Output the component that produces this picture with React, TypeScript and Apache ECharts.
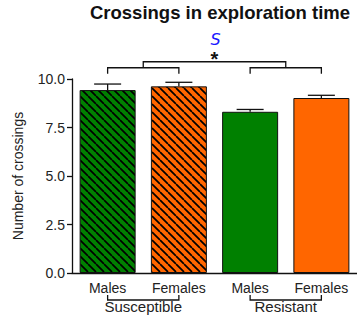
import React, { useEffect, useRef } from "react";
import * as echarts from "echarts";

// Groups and values
const categories = ["Males", "Females", "Males", "Females"];
const groups = ["Susceptible", "Resistant"];
const means = [9.43, 9.62, 8.31, 9.02];
const sems = [0.31, 0.21, 0.12, 0.14];
const hatched = [true, true, false, false];
const barColors = ["#008000", "#FF6600", "#008000", "#FF6600"];
const yTicks = [0, 2.5, 5, 7.5, 10];

// Significance brackets: levels in data units
const pairLevel = 10.58;
const pairDrop = 10.27;
const topLevel = 10.89;
const starLevel = 11.15;
const sLevel = 12.05;

const FONT = "'Liberation Sans', Arial, Helvetica, sans-serif";

function makeHatch(bg: string): HTMLCanvasElement {
  const s = 8;
  const c = document.createElement("canvas");
  c.width = s;
  c.height = s;
  const ctx = c.getContext("2d")!;
  ctx.fillStyle = bg;
  ctx.fillRect(0, 0, s, s);
  ctx.strokeStyle = "#000";
  ctx.lineWidth = 1.7;
  ctx.beginPath();
  for (const off of [-s, 0, s]) {
    ctx.moveTo(off, 0);
    ctx.lineTo(off + s, s);
  }
  ctx.stroke();
  return c;
}

export default function App() {
  const ref = useRef<HTMLDivElement>(null);

  useEffect(() => {
    if (!ref.current) return;
    const chart = echarts.init(ref.current, undefined, { renderer: "svg" });

    const barData = means.map((v, i) => ({
      value: v,
      itemStyle: {
        color: hatched[i]
          ? { image: makeHatch(barColors[i]), repeat: "repeat" }
          : barColors[i],
        borderColor: "#111",
        borderWidth: 1,
      },
    }));

    const lineStyle = { stroke: "#111", lineWidth: 1.3 };

    chart.setOption({
      animation: false,
      graphic: [
        {
          type: "text",
          x: 220,
          y: 3,
          style: {
            text: "Crossings in exploration time",
            font: `bold 18.5px ${FONT}`,
            fill: "#111",
            textAlign: "center",
          },
        },
      ],
      grid: { left: 72, top: 79, width: 292, bottom: 47, containLabel: false },
      xAxis: {
        type: "category",
        data: categories,
        axisLine: { lineStyle: { color: "#111", width: 1.3 } },
        axisTick: { alignWithLabel: true, length: 5, lineStyle: { color: "#111", width: 1.3 } },
        axisLabel: { fontSize: 14, fontFamily: FONT, color: "#222", margin: 8 },
      },
      yAxis: {
        type: "value",
        min: 0,
        max: 10,
        interval: 2.5,
        name: "Number of crossings",
        nameLocation: "middle",
        nameGap: 47,
        nameTextStyle: { fontSize: 14, fontFamily: FONT, color: "#222" },
        axisLine: { show: true, lineStyle: { color: "#111", width: 1.3 } },
        axisTick: { show: true, length: 5, lineStyle: { color: "#111", width: 1.3 } },
        splitLine: { show: false },
        axisLabel: {
          fontSize: 14,
          fontFamily: FONT,
          color: "#222",
          margin: 7,
          formatter: (v: number) => (yTicks.includes(v) ? v.toFixed(1) : ""),
        },
      },
      series: [
        {
          type: "bar",
          data: barData,
          barWidth: 56,
          z: 2,
        },
        {
          // error bars (mean + SEM)
          type: "custom",
          z: 3,
          data: means.map((m, i) => [i, m, sems[i]]),
          renderItem: (params: any, api: any) => {
            const i = api.value(0);
            const m = api.value(1);
            const e = api.value(2);
            const p0 = api.coord([i, m]);
            const p1 = api.coord([i, m + e]);
            return {
              type: "group",
              children: [
                { type: "line", shape: { x1: p0[0], y1: p0[1], x2: p1[0], y2: p1[1] }, style: lineStyle },
                { type: "line", shape: { x1: p1[0] - 13.5, y1: p1[1], x2: p1[0] + 13.5, y2: p1[1] }, style: lineStyle },
              ],
            };
          },
        },
        {
          // significance brackets and group labels
          type: "custom",
          z: 3,
          clip: false,
          data: [[0]],
          renderItem: (params: any, api: any) => {
            const children: any[] = [];
            const pairMid: number[][] = [];
            for (let g = 0; g < 2; g++) {
              const a = api.coord([g * 2, pairLevel]);
              const b = api.coord([g * 2 + 1, pairLevel]);
              const d = api.coord([g * 2, pairDrop]);
              children.push({
                type: "polyline",
                shape: { points: [[a[0], d[1]], [a[0], a[1]], [b[0], b[1]], [b[0], d[1]]] },
                style: { ...lineStyle, fill: "none" },
              });
              pairMid.push([(a[0] + b[0]) / 2, a[1]]);
              // group bracket under the axis labels
              const z0 = api.coord([g * 2, 0]);
              const z1 = api.coord([g * 2 + 1, 0]);
              const yb = z0[1] + 27;
              children.push({
                type: "polyline",
                shape: { points: [[z0[0], yb - 5], [z0[0], yb], [z1[0], yb], [z1[0], yb - 5]] },
                style: { ...lineStyle, fill: "none" },
              });
              children.push({
                type: "text",
                x: (z0[0] + z1[0]) / 2,
                y: yb - 1,
                style: {
                  text: groups[g],
                  font: `15px ${FONT}`,
                  fill: "#222",
                  textAlign: "center",
                  textVerticalAlign: "top",
                },
              });
            }
            const t = api.coord([0, topLevel]);
            children.push({
              type: "polyline",
              shape: {
                points: [
                  [pairMid[0][0], pairMid[0][1]],
                  [pairMid[0][0], t[1]],
                  [pairMid[1][0], t[1]],
                  [pairMid[1][0], pairMid[1][1]],
                ],
              },
              style: { ...lineStyle, fill: "none" },
            });
            const sx = (pairMid[0][0] + pairMid[1][0]) / 2;
            const st = api.coord([0, starLevel]);
            children.push({
              type: "text",
              x: sx,
              y: st[1] + 2,
              style: {
                text: "*",
                font: `bold 20px ${FONT}`,
                fill: "#111",
                textAlign: "center",
                textVerticalAlign: "middle",
              },
            });
            const ss = api.coord([0, sLevel]);
            children.push({
              type: "text",
              x: sx + 1,
              y: ss[1],
              style: {
                text: "S",
                font: `italic 16px 'DejaVu Sans', sans-serif`,
                fill: "#1a1aff",
                textAlign: "center",
                textVerticalAlign: "middle",
              },
            });
            return { type: "group", children };
          },
        },
      ],
    });

    return () => chart.dispose();
  }, []);

  return (
    <div
      ref={ref}
      style={{ position: "absolute", left: 0, top: 0, width: 357, height: 320, overflow: "hidden" }}
    />
  );
}
